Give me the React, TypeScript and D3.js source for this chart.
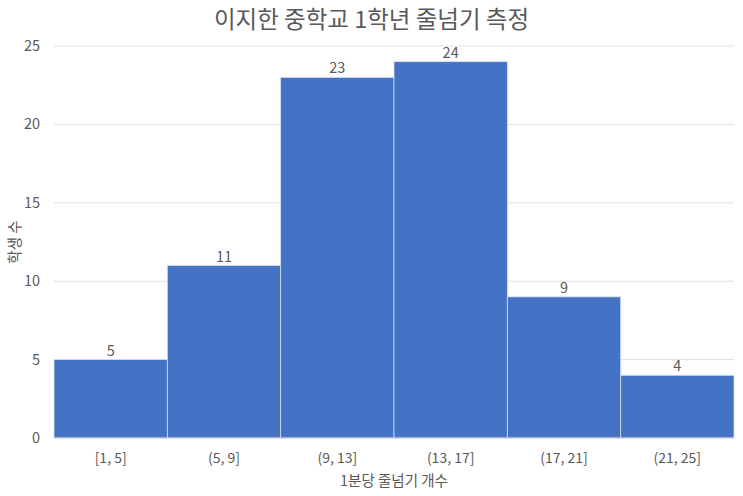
import { useEffect, useRef } from "react";
import * as d3 from "d3";

// 1분당 줄넘기 개수 구간별 학생 수
const BINS = ["[1, 5]", "(5, 9]", "(9, 13]", "(13, 17]", "(17, 21]", "(21, 25]"];
const COUNTS = [5, 11, 23, 24, 9, 4];
const Y_TICKS = [0, 5, 10, 15, 20, 25];

const TITLE = "이지한 중학교 1학년 줄넘기 측정";
const X_LABEL = "1분당 줄넘기 개수";
const Y_LABEL = "학생 수";

const FONT = "'Noto Sans CJK KR', 'Noto Sans', sans-serif";
const TEXT = "#595959";

export default function App() {
  const svgRef = useRef<SVGSVGElement | null>(null);

  useEffect(() => {
    const svg = d3.select(svgRef.current);
    svg.selectAll("*").remove();

    const W = 743;
    const H = 496;
    const margin = { top: 46, right: 9, bottom: 58, left: 54 };
    const w = W - margin.left - margin.right;
    const h = H - margin.top - margin.bottom;

    svg.attr("viewBox", `0 0 ${W} ${H}`).style("font-family", FONT);

    svg
      .append("text")
      .attr("x", W / 2)
      .attr("y", 28)
      .attr("text-anchor", "middle")
      .attr("font-size", 23.5)
      .attr("fill", TEXT)
      .text(TITLE);

    const g = svg.append("g").attr("transform", `translate(${margin.left},${margin.top})`);

    const x = d3.scaleBand().domain(BINS).range([0, w]).padding(0);
    const y = d3.scaleLinear().domain([0, 25]).range([h, 0]);

    // gridlines
    g.append("g")
      .selectAll("line")
      .data(Y_TICKS)
      .join("line")
      .attr("x1", 0)
      .attr("x2", w)
      .attr("y1", (d) => y(d))
      .attr("y2", (d) => y(d))
      .attr("stroke", "#e0e0e0")
      .attr("stroke-width", 1);

    // y tick labels
    g.append("g")
      .selectAll("text")
      .data(Y_TICKS)
      .join("text")
      .attr("x", -14)
      .attr("y", (d) => y(d))
      .attr("dy", "0.35em")
      .attr("text-anchor", "end")
      .attr("font-size", 14.5)
      .attr("fill", TEXT)
      .text((d) => d);

    // bars
    g.append("g")
      .selectAll("rect")
      .data(COUNTS)
      .join("rect")
      .attr("x", (_, i) => x(BINS[i])!)
      .attr("y", (d) => y(d))
      .attr("width", x.bandwidth())
      .attr("height", (d) => h - y(d))
      .attr("fill", "#4472C4")
      .attr("stroke", "#d6dff0")
      .attr("stroke-width", 0.8);

    // value labels
    g.append("g")
      .selectAll("text")
      .data(COUNTS)
      .join("text")
      .attr("x", (_, i) => x(BINS[i])! + x.bandwidth() / 2)
      .attr("y", (d) => y(d) - 4)
      .attr("text-anchor", "middle")
      .attr("font-size", 14.5)
      .attr("fill", TEXT)
      .text((d) => d);

    // x axis line
    g.append("line")
      .attr("x1", 0)
      .attr("x2", w)
      .attr("y1", h)
      .attr("y2", h)
      .attr("stroke", "#d0d0d0")
      .attr("stroke-width", 1);

    // x tick labels
    g.append("g")
      .selectAll("text")
      .data(BINS)
      .join("text")
      .attr("x", (d) => x(d)! + x.bandwidth() / 2)
      .attr("y", h + 25)
      .attr("text-anchor", "middle")
      .attr("font-size", 14)
      .attr("fill", TEXT)
      .text((d) => d);

    svg
      .append("text")
      .attr("x", margin.left + w / 2)
      .attr("y", 486)
      .attr("text-anchor", "middle")
      .attr("font-size", 14.5)
      .attr("fill", TEXT)
      .text(X_LABEL);

    svg
      .append("text")
      .attr("transform", `translate(20,${margin.top + h / 2}) rotate(-90)`)
      .attr("text-anchor", "middle")
      .attr("font-size", 14.5)
      .attr("fill", TEXT)
      .text(Y_LABEL);
  }, []);

  return (
    <svg
      ref={svgRef}
      width={743}
      height={496}
      style={{ position: "absolute", left: 0, top: 0, display: "block" }}
    />
  );
}
